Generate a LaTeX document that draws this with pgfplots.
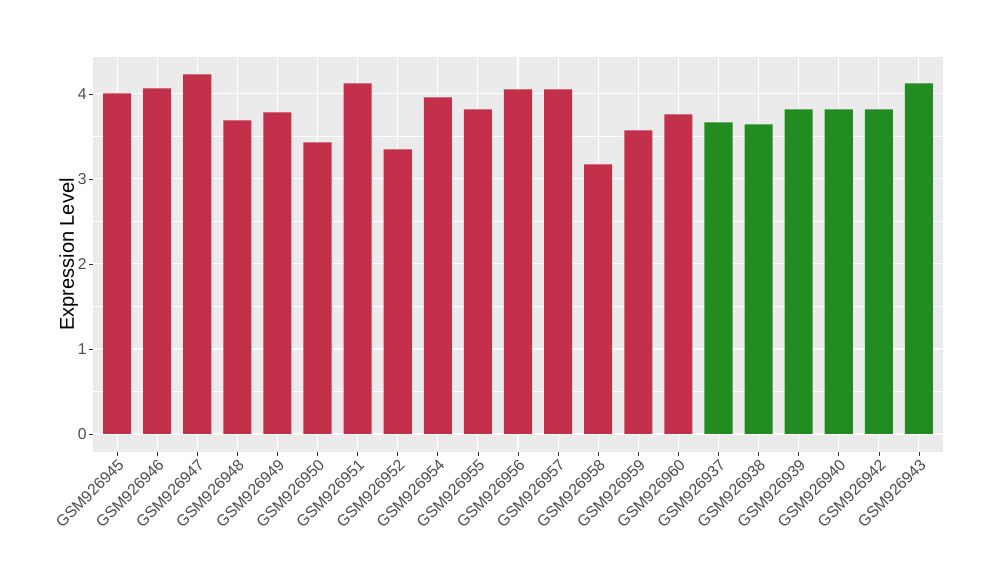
\documentclass[border=0pt]{standalone}
\usepackage{pgfplots}
\pgfplotsset{compat=1.18}
\usepackage{fontspec}
\setmainfont{Liberation Sans}
\definecolor{barred}{HTML}{C3304A}
\definecolor{bargreen}{HTML}{228B22}
\definecolor{panelbg}{HTML}{EBEBEB}
\definecolor{tickgray}{HTML}{333333}
\definecolor{labgray}{HTML}{4D4D4D}
\begin{document}
\begin{tikzpicture}
\path[use as bounding box] (0pt,0pt) rectangle (750pt,435pt);
\begin{axis}[
  at={(69.75pt,96pt)}, anchor=south west,
  scale only axis, width=637.5pt, height=296.25pt,
  xmin=-0.6, xmax=20.6, ymin=-0.212, ymax=4.435,
  axis background/.style={fill=panelbg},
  axis line style={draw=none},
  ybar, bar width=0.7,
  xtick={0,...,20},
  xticklabels={GSM926945,GSM926946,GSM926947,GSM926948,GSM926949,GSM926950,GSM926951,GSM926952,GSM926954,GSM926955,GSM926956,GSM926957,GSM926958,GSM926959,GSM926960,GSM926937,GSM926938,GSM926939,GSM926940,GSM926942,GSM926943},
  ytick={0,1,2,3,4},
  minor ytick={0.5,1.5,2.5,3.5},
  xtick pos=left, ytick pos=left,
  grid=both,
  major grid style={white, line width=0.8pt},
  minor grid style={white, line width=0.4pt},
  tick align=outside,
  major tick length=3pt, minor tick length=0pt,
  tick style={tickgray, line width=0.5pt},
  x tick label style={rotate=45, anchor=north east, inner sep=1pt, font=\fontsize{11.8}{13}\selectfont, text=labgray},
  y tick label style={font=\fontsize{11.8}{13}\selectfont, text=labgray, inner sep=1.5pt},
  /pgf/number format/assume math mode=true,
  ylabel={Expression Level},
  ylabel style={font=\fontsize{15}{18}\selectfont, yshift=-5pt},
  clip=false,
]
\addplot[fill=barred, draw=none, bar shift=0pt] coordinates {
(0,4.008) (1,4.067) (2,4.231) (3,3.690) (4,3.784) (5,3.431) (6,4.125) (7,3.349)
(8,3.961) (9,3.820) (10,4.055) (11,4.055) (12,3.173) (13,3.573) (14,3.761)};
\addplot[fill=bargreen, draw=none, bar shift=0pt] coordinates {
(15,3.667) (16,3.643) (17,3.820) (18,3.820) (19,3.820) (20,4.125)};
\end{axis}
\end{tikzpicture}
\end{document}
